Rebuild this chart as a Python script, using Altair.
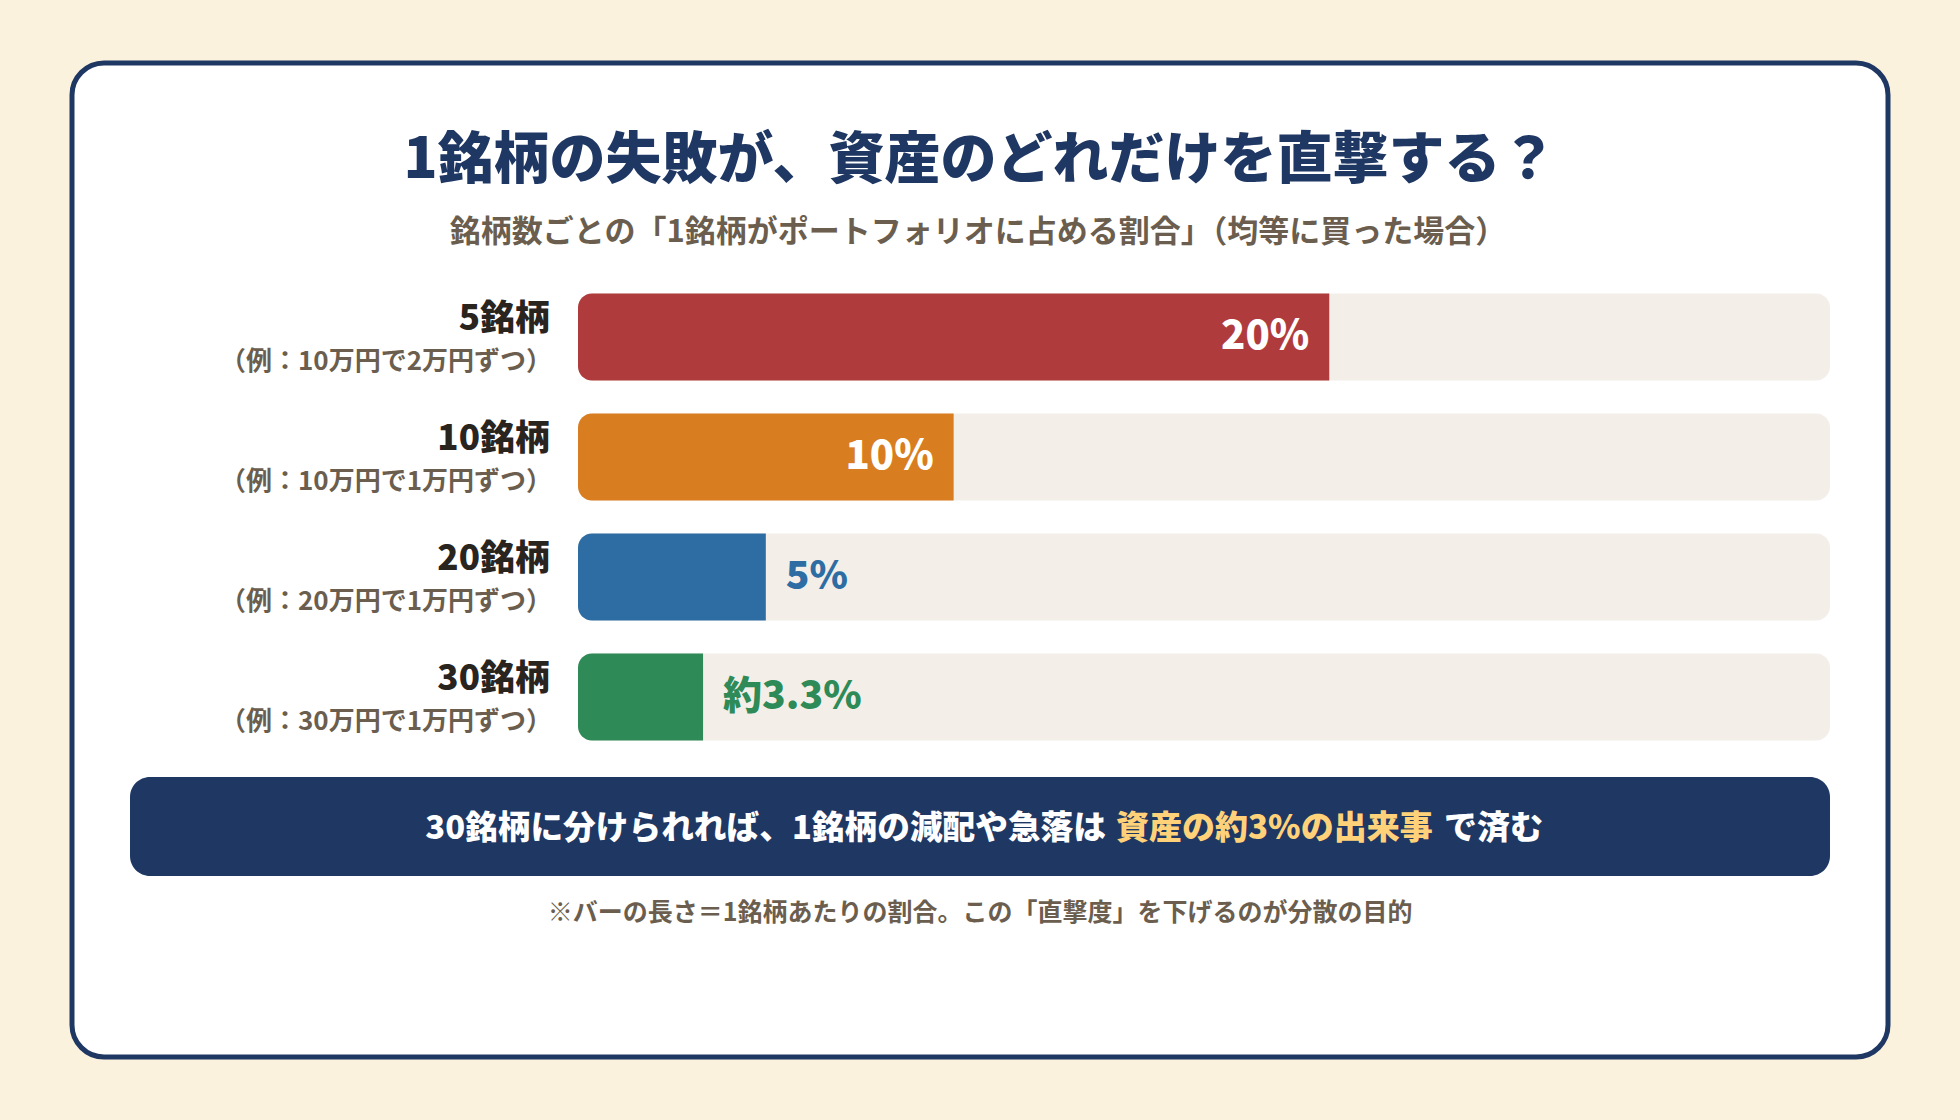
import altair as alt
import pandas as pd

# ---- data ----
categories = ["5銘柄", "10銘柄", "20銘柄", "30銘柄"]
examples = ["（例：10万円で2万円ずつ）", "（例：10万円で1万円ずつ）",
            "（例：20万円で1万円ずつ）", "（例：30万円で1万円ずつ）"]
shares = [20.0, 10.0, 5.0, 3.33]
value_labels = ["20%", "10%", "5%", "約3.3%"]
bar_colors = ["#B03B3D", "#D87D20", "#2E6DA4", "#2E8A57"]
label_inside = [True, True, False, False]
axis_max = 33.33

title_text = "1銘柄の失敗が、資産のどれだけを直撃する？"
subtitle_text = "銘柄数ごとの「1銘柄がポートフォリオに占める割合」（均等に買った場合）"
banner_parts = ["30銘柄に分けられれば、1銘柄の減配や急落は", "資産の約3%の出来事", "で済む"]
footnote_text = "※バーの長さ＝1銘柄あたりの割合。この「直撃度」を下げるのが分散の目的"

FONT = "Noto Sans CJK JP"
NAVY = "#1F3763"
GRAY = "#6B5E4E"

df = pd.DataFrame({
    "cat": categories,
    "ex": examples,
    "share": shares,
    "label": value_labels,
    "color": bar_colors,
    "inside": label_inside,
    "zero": [0.0] * 4,
    "max": [axis_max] * 4,
})

xscale = alt.Scale(domain=[0, axis_max], range=[578, 1830])
yscale = alt.Scale(type="band", domain=categories, range=[277, 757],
                   paddingInner=0.275, paddingOuter=0.1375)


def X(f):
    return alt.X(f, type="quantitative", scale=xscale, axis=None)


def Y():
    return alt.Y("cat:N", scale=yscale, axis=None, sort=categories)


one = pd.DataFrame({"k": [0]})

card = alt.Chart(one).mark_rect(
    fill="white", stroke=NAVY, strokeWidth=5, cornerRadius=32
).encode(x=alt.value(72), x2=alt.value(1888), y=alt.value(63), y2=alt.value(1057))

title = alt.Chart(one).mark_text(
    font=FONT, fontSize=56, fontWeight=900, color=NAVY, align="center", baseline="middle"
).encode(x=alt.value(980), y=alt.value(161), text=alt.value(title_text))

subtitle = alt.Chart(one).mark_text(
    font=FONT, fontSize=31, fontWeight="bold", color=GRAY, align="center", baseline="middle"
).encode(x=alt.value(978), y=alt.value(233), text=alt.value(subtitle_text))

base = alt.Chart(df)

track = base.mark_rect(cornerRadius=14, color="#F3EFE8").encode(
    x=X("zero"), x2="max", y=Y())

bars = base.mark_rect(cornerRadiusTopLeft=14, cornerRadiusBottomLeft=14).encode(
    x=X("zero"), x2="share", y=Y(), color=alt.Color("color:N", scale=None))

lab_in = base.transform_filter("datum.inside").mark_text(
    font=FONT, fontSize=40, fontWeight=900, color="white", align="right",
    baseline="middle", dx=-20
).encode(x=X("share"), y=Y(), text="label:N")

lab_out = base.transform_filter("!datum.inside").mark_text(
    font=FONT, fontSize=39, fontWeight=900, align="left", baseline="middle", dx=20
).encode(x=X("share"), y=Y(), text="label:N", color=alt.Color("color:N", scale=None))

row_lab = base.mark_text(
    font=FONT, fontSize=35, fontWeight=900, color="#2A241F", align="right",
    baseline="middle", dy=-18
).encode(x=alt.value(550), y=Y(), text="cat:N")

row_sub = base.mark_text(
    font=FONT, fontSize=26, fontWeight="bold", color=GRAY, align="right",
    baseline="middle", dy=25
).encode(x=alt.value(552), y=Y(), text="ex:N")

banner = alt.Chart(one).mark_rect(fill=NAVY, cornerRadius=20).encode(
    x=alt.value(130), x2=alt.value(1830), y=alt.value(777), y2=alt.value(876))

b1 = alt.Chart(one).mark_text(
    font=FONT, fontSize=32.7, fontWeight=900, color="white", align="right", baseline="middle"
).encode(x=alt.value(1106), y=alt.value(829), text=alt.value(banner_parts[0]))
b2 = alt.Chart(one).mark_text(
    font=FONT, fontSize=33, fontWeight=900, color="#FFD27A", align="left", baseline="middle"
).encode(x=alt.value(1116), y=alt.value(829), text=alt.value(banner_parts[1]))
b3 = alt.Chart(one).mark_text(
    font=FONT, fontSize=33, fontWeight=900, color="white", align="left", baseline="middle"
).encode(x=alt.value(1444), y=alt.value(829), text=alt.value(banner_parts[2]))

foot = alt.Chart(one).mark_text(
    font=FONT, fontSize=25, fontWeight="bold", color=GRAY, align="center", baseline="middle"
).encode(x=alt.value(980), y=alt.value(913), text=alt.value(footnote_text))

chart = alt.layer(
    card, title, subtitle, track, bars, lab_in, lab_out, row_lab, row_sub,
    banner, b1, b2, b3, foot
).properties(
    width=1960, height=1120, padding=0,
    autosize=alt.AutoSizeParams(type="none"),
    background="#FBF2DE",
).configure_view(stroke=None)

chart.save("out.html", embed_options={"renderer": "svg", "actions": False})
